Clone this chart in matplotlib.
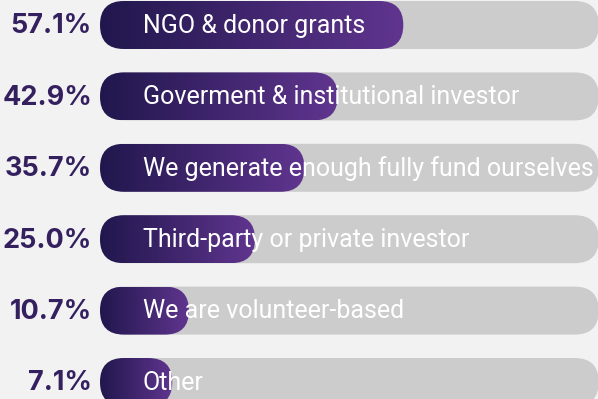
import numpy as np
import matplotlib.pyplot as plt
from matplotlib.patches import FancyBboxPatch
from matplotlib.colors import LinearSegmentedColormap

# Survey: main funding sources
labels = [
    "NGO & donor grants",
    "Goverment & institutional investor",
    "We generate enough fully fund ourselves",
    "Third-party or private investor",
    "We are volunteer-based",
    "Other",
]
shares = [57.1, 42.9, 35.7, 25.0, 10.7, 7.1]

BG = "#f2f2f2"
TRACK = "#cccccc"
grad = LinearSegmentedColormap.from_list("purple", ["#21174d", "#60358f"])

W, H, DPI = 598, 399, 100
fig = plt.figure(figsize=(W / DPI, H / DPI), dpi=DPI, facecolor=BG)
ax = fig.add_axes([0, 0, 1, 1])
ax.set_facecolor(BG)

# x in percent, y in row index (top row = 0)
px_per_pct = 4.62
px_per_row = 71.4
x_at0 = 139.5          # pixel where 0% sits
ax.axis("off")

track_left = (100 - x_at0) / px_per_pct
track_right = 99.4
bar_h = 48 / px_per_row
radius = 24 / px_per_pct
aspect = px_per_pct / px_per_row

def rounded(x0, x1, yc, **kw):
    return FancyBboxPatch((x0, yc - bar_h / 2), x1 - x0, bar_h,
                          boxstyle=f"round,pad=0,rounding_size={radius}",
                          mutation_aspect=aspect, linewidth=0, **kw)

ramp = np.linspace(0, 1, 256).reshape(1, -1)
for i, (lab, v) in enumerate(zip(labels, shares)):
    ax.add_patch(rounded(track_left, track_right, i, facecolor=TRACK, zorder=1))
    fill = rounded(track_left, v, i, facecolor="none", zorder=2)
    ax.add_patch(fill)
    img = ax.imshow(ramp, cmap=grad, aspect="auto", zorder=2,
                    extent=(track_left, v, i + bar_h / 2, i - bar_h / 2))
    img.set_clip_path(fill)
    ax.text((143 - x_at0) / px_per_pct, i + 0.01, lab, color="white",
            fontsize=18, family="Roboto", va="center", ha="left", zorder=3)
    ax.text((92 - x_at0) / px_per_pct, i + 0.02, f"{v:.1f}%", color="#35205f",
            fontsize=19.5, family="Inter", weight="bold", va="center", ha="right",
            zorder=3)

ax.set_ylim((H - 25) / px_per_row, -25 / px_per_row)
ax.set_xlim(-x_at0 / px_per_pct, (W - x_at0) / px_per_pct)
fig.savefig("out.png", dpi=DPI, facecolor=BG)
